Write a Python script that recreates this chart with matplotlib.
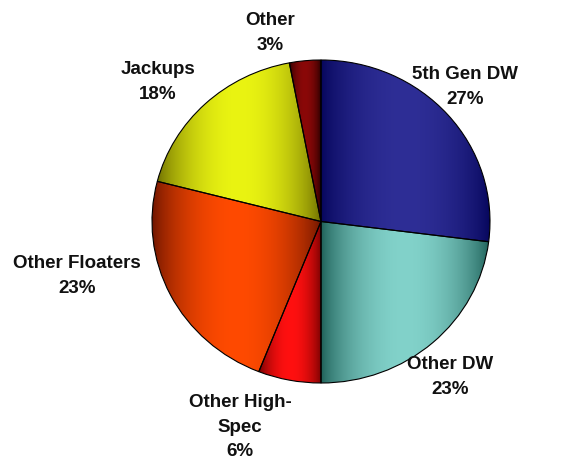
import numpy as np
import matplotlib
matplotlib.use("Agg")
import matplotlib.pyplot as plt

labels = ["5th Gen DW", "Other DW", "Other High-\nSpec", "Other Floaters", "Jackups", "Other"]
values = [27, 23, 6, 23, 18, 3]
light_colors = ["#2e2e96", "#82d2ca", "#ff1010", "#ff4a00", "#eaf412", "#8a0808"]
dark_colors = ["#05055a", "#1c5e56", "#6a0000", "#6a1400", "#6a6a00", "#250000"]
# label text positions in pixels (x, y from top)
label_pos = [(465, 87), (450, 377), (240, 427), (77, 276), (158, 82), (270, 33)]

W, H = 565, 463
fig = plt.figure(figsize=(W / 100, H / 100), dpi=100)
left, right, top, bottom = 152, 490, 60, 383
ax = fig.add_axes([left / W, (H - bottom) / H, (right - left) / W, (bottom - top) / H])

wedges, _ = ax.pie(values, startangle=90, counterclock=False, radius=1.0,
                   wedgeprops=dict(edgecolor="black", linewidth=0.8))
ax.set_xlim(-1, 1)
ax.set_ylim(-1, 1)
ax.set_aspect("auto")
ax.axis("off")

def hex2rgb(h):
    h = h.lstrip("#")
    return np.array([int(h[i:i + 2], 16) / 255 for i in (0, 2, 4)])

for w, lc, dc in zip(wedges, light_colors, dark_colors):
    bb = w.get_path().get_extents(w.get_patch_transform())
    n = 200
    t = np.linspace(0, 1, n)
    b = np.sin(np.pi * t) ** 0.7
    L, D = hex2rgb(lc), hex2rgb(dc)
    cols = D[None, :] + (L - D)[None, :] * b[:, None]
    img = np.repeat(cols[None, :, :], 2, axis=0)
    im = ax.imshow(img, extent=[bb.x0, bb.x1, bb.y0, bb.y1], aspect="auto",
                   interpolation="bilinear", zorder=1)
    im.set_clip_path(w)
    w.set_facecolor("none")
    w.set_zorder(2)

ax.set_xlim(-1, 1)
ax.set_ylim(-1, 1)
ax.set_aspect("auto")

for lab, v, (px, py) in zip(labels, values, label_pos):
    fig.text(px / W, 1 - py / H, f"{lab}\n{v}%", ha="center", va="center",
             fontsize=13.5, fontweight="bold", family="Liberation Sans",
             linespacing=1.6, color="#111111")

fig.savefig("out.png", dpi=100)
